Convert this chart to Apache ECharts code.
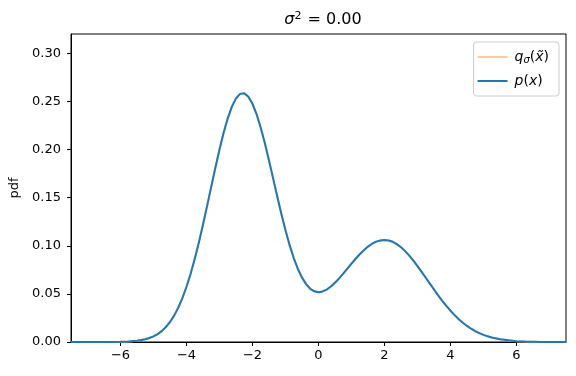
<!DOCTYPE html>
<html><head><meta charset="utf-8">
<script src="https://cdn.jsdelivr.net/npm/echarts@6/dist/echarts.min.js"></script>
<style>html,body{margin:0;padding:0;background:#fff}#c{width:576px;height:376px}</style>
</head><body><div id="c"></div>
<script>
const xValues = [-7.5,-7.25,-7,-6.75,-6.5,-6.25,-6,-5.75,-5.5,-5.25,-5.125,-5,-4.875,-4.75,-4.625,-4.5,-4.375,-4.25,-4.125,-4,-3.875,-3.75,-3.625,-3.5,-3.375,-3.25,-3.125,-3,-2.875,-2.75,-2.625,-2.5,-2.375,-2.25,-2.125,-2,-1.875,-1.75,-1.625,-1.5,-1.375,-1.25,-1.125,-1,-0.875,-0.75,-0.625,-0.5,-0.375,-0.25,-0.125,0,0.125,0.25,0.375,0.5,0.625,0.75,0.875,1,1.125,1.25,1.375,1.5,1.625,1.75,1.875,2,2.125,2.25,2.375,2.5,2.625,2.75,2.875,3,3.125,3.25,3.375,3.5,3.625,3.75,3.875,4,4.125,4.25,4.375,4.5,4.625,4.75,4.875,5,5.125,5.25,5.5,5.75,6,6.25,6.5,6.75,7,7.25,7.5];
const pValues = [0.0000,0.0000,0.0000,0.0000,0.0000,0.0001,0.0002,0.0005,0.0013,0.0028,0.0041,0.0058,0.0082,0.0113,0.0155,0.0208,0.0274,0.0356,0.0456,0.0574,0.0709,0.0865,0.1034,0.1220,0.1414,0.1614,0.1811,0.2000,0.2174,0.2324,0.2445,0.2531,0.2578,0.2585,0.2549,0.2475,0.2366,0.2226,0.2064,0.1886,0.1700,0.1511,0.1330,0.1160,0.1006,0.0872,0.0759,0.0669,0.0601,0.0553,0.0527,0.0517,0.0525,0.0545,0.0576,0.0615,0.0661,0.0711,0.0763,0.0815,0.0865,0.0912,0.0954,0.0991,0.1021,0.1043,0.1055,0.1060,0.1055,0.1041,0.1017,0.0984,0.0944,0.0897,0.0845,0.0789,0.0729,0.0668,0.0606,0.0545,0.0485,0.0428,0.0375,0.0325,0.0279,0.0237,0.0200,0.0167,0.0138,0.0113,0.0092,0.0074,0.0059,0.0047,0.0028,0.0017,0.0009,0.0005,0.0003,0.0001,0.0001,0.0000,0.0000];
// sigma^2 = 0: the noisy density q equals p
const qValues = pValues;
const xTicks = [-6,-4,-2,0,2,4,6];
const yTicks = [0,0.05,0.10,0.15,0.20,0.25,0.30];
const titleText = '{i|σ}{sup|2}{n| = 0.00}';
const yName = 'pdf';

const chart = echarts.init(document.getElementById('c'), null, {renderer:'canvas'});
const FONT = 'DejaVu Sans';
const mathRich = {
  g:{width:2,fontSize:14},
  i:{fontFamily:FONT,fontStyle:'italic',fontSize:14,color:'#000'},
  n:{fontFamily:FONT,fontSize:14,color:'#000'},
  sub:{fontFamily:FONT,fontStyle:'italic',fontSize:10,color:'#000',verticalAlign:'bottom',padding:[4,0,0,0]}
};
chart.setOption({
  animation:false,
  backgroundColor:'#fff',
  title:{
    text:titleText, left:318, top:6, textAlign:'center',
    textStyle:{fontFamily:FONT,fontSize:16,fontWeight:'normal',color:'#000',
      rich:{i:{fontFamily:FONT,fontStyle:'italic',fontSize:16,color:'#000'},
            n:{fontFamily:FONT,fontSize:16,color:'#000'},
            sup:{fontFamily:FONT,fontSize:11,color:'#000',verticalAlign:'top',padding:[0,1,7,0]}}}
  },
  grid:{left:71,right:10,top:34,bottom:34,show:true,borderColor:'#000',borderWidth:1,backgroundColor:'transparent'},
  legend:{
    orient:'vertical', right:17, top:42,
    padding:[7,10,7,4], itemGap:8, itemWidth:30, itemHeight:2,
    backgroundColor:'rgba(255,255,255,0.8)', borderColor:'#cccccc', borderWidth:1, borderRadius:3,
    data:[{name:'q',icon:'rect'},{name:'p',icon:'rect'}],
    formatter:function(n){return n==='q' ? '{g|}{i|q}{sub|σ}{n|(}{i|x̃}{n|)}' : '{g|}{i|p}{n|(}{i|x}{n|)}';},
    textStyle:{fontFamily:FONT,fontSize:14,color:'#000',lineHeight:16,rich:mathRich}
  },
  xAxis:{
    type:'value', min:-7.5, max:7.5,
    axisLine:{show:true,onZero:false,lineStyle:{color:'#000',width:1}},
    axisTick:{show:true,length:4,lineStyle:{color:'#000'},customValues:xTicks},
    axisLabel:{customValues:xTicks,margin:7,fontFamily:FONT,fontSize:13,color:'#000',
      formatter:function(v){return String(v).replace('-','\u2212');}},
    splitLine:{show:false}
  },
  yAxis:{
    type:'value', min:0, max:0.32,
    name:yName, nameLocation:'middle', nameGap:49,
    nameTextStyle:{fontFamily:FONT,fontSize:13,color:'#000'},
    axisLine:{show:true,onZero:false,lineStyle:{color:'#000',width:1}},
    axisTick:{show:true,length:4,lineStyle:{color:'#000'},customValues:yTicks},
    axisLabel:{customValues:yTicks,margin:10,fontFamily:FONT,fontSize:13,color:'#000',
      formatter:function(v){return v.toFixed(2);}},
    splitLine:{show:false}
  },
  series:[
    {name:'q',type:'line',data:xValues.map((x,i)=>[x,qValues[i]]),showSymbol:false,symbol:'none',smooth:false,
     color:'#ffcc9f',lineStyle:{color:'#ffcc9f',width:2},itemStyle:{color:'#ffcc9f'}},
    {name:'p',type:'line',data:xValues.map((x,i)=>[x,pValues[i]]),showSymbol:false,symbol:'none',smooth:false,
     color:'#1f77b4',lineStyle:{color:'#1f77b4',width:2,join:'round'},itemStyle:{color:'#1f77b4'}}
  ]
});
</script></body></html>
